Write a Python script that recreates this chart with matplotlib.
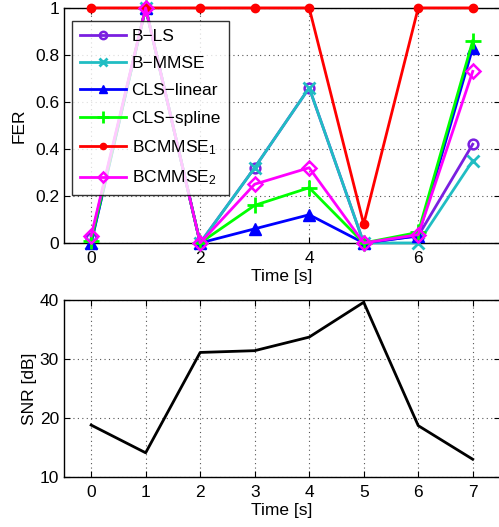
import matplotlib
matplotlib.use("Agg")
import matplotlib.pyplot as plt

plt.rcParams['font.family'] = ['Liberation Sans', 'DejaVu Sans']
plt.rcParams['mathtext.fontset'] = 'custom'
plt.rcParams['mathtext.rm'] = 'Liberation Sans'
plt.rcParams['mathtext.it'] = 'Liberation Sans'

time = [0, 1, 2, 3, 4, 5, 6, 7]
b_ls = [0.02, 1.0, 0.0, 0.32, 0.66, 0.0, 0.03, 0.42]
b_mmse = [0.0, 1.0, 0.0, 0.32, 0.66, 0.0, 0.0, 0.35]
cls_linear = [0.0, 1.0, 0.0, 0.06, 0.12, 0.0, 0.03, 0.83]
cls_spline = [0.01, 1.0, 0.0, 0.16, 0.235, 0.0, 0.045, 0.86]
bcmmse1 = [1.0, 1.0, 1.0, 1.0, 1.0, 0.08, 1.0, 1.0]
bcmmse2 = [0.03, 1.0, 0.0, 0.25, 0.32, 0.0, 0.035, 0.73]
snr = [18.8, 14.1, 31.1, 31.4, 33.7, 39.6, 18.7, 13.0]

labels = ['B\u2212LS', 'B\u2212MMSE', 'CLS\u2212linear', 'CLS\u2212spline',
          'BCMMSE$_{1}$', 'BCMMSE$_{2}$']
fer_ticks = [0, 0.2, 0.4, 0.6, 0.8, 1]
fer_ticklabels = ['0', '0.2', '0.4', '0.6', '0.8', '1']
snr_ticks = [10, 20, 30, 40]

fig = plt.figure(figsize=(4.99, 5.27), dpi=100)
ax1 = fig.add_axes([0.128, 0.539, 0.874, 0.446])
ax2 = fig.add_axes([0.128, 0.0949, 0.874, 0.336])

fs = 12.5
lw = 2.0
series = [
    (b_ls, dict(color='#7A1FE0', marker='o', mfc='none', ms=7, mew=1.8)),
    (b_mmse, dict(color='#20BDC3', marker='x', ms=8, mew=2)),
    (cls_linear, dict(color='#0000FF', marker='^', ms=8, mfc='#0000FF')),
    (cls_spline, dict(color='#00FF00', marker='+', ms=11, mew=2)),
    (bcmmse1, dict(color='#FF0000', marker='o', ms=6, mfc='#FF0000')),
    (bcmmse2, dict(color='#FF00FF', marker='D', mfc='none', ms=7, mew=1.8)),
]
for (vals, st), lab in zip(series, labels):
    ax1.plot(time, vals, lw=lw, label=lab, clip_on=False, zorder=3, **st)

ax1.set_xlim(-0.5, 7.5)
ax1.set_ylim(0, 1)
ax1.set_xticks([0, 2, 4, 6])
ax1.set_yticks(fer_ticks)
ax1.set_yticklabels(fer_ticklabels)
ax1.set_ylabel('FER', fontsize=fs, labelpad=6)
ax1.set_xlabel('Time [s]', fontsize=fs, labelpad=2)
leg = ax1.legend(loc='upper left', bbox_to_anchor=(0.018, 0.945), fontsize=fs,
                 frameon=True, fancybox=False, edgecolor='black',
                 borderaxespad=0, handlelength=2.7, labelspacing=0.7,
                 handletextpad=0.3, borderpad=0.45, markerscale=0.75)
leg.get_frame().set_linewidth(1.0)
leg.set_zorder(5)

ax2.plot(time, snr, color='black', lw=lw)
ax2.set_xlim(-0.5, 7.5)
ax2.set_ylim(10, 40)
ax2.set_xticks(time)
ax2.set_yticks(snr_ticks)
ax2.set_ylabel('SNR [dB]', fontsize=fs, labelpad=2)
ax2.set_xlabel('Time [s]', fontsize=fs, labelpad=2)

for ax in (ax1, ax2):
    ax.grid(True, linestyle=(0, (1, 3)), color='#555555', linewidth=0.8)
    ax.tick_params(direction='in', labelsize=fs, length=4, top=True, right=True)
    ax.tick_params(axis='x', pad=6)
    for s in ax.spines.values():
        s.set_linewidth(1.0)

fig.savefig('out.png', dpi=100)
